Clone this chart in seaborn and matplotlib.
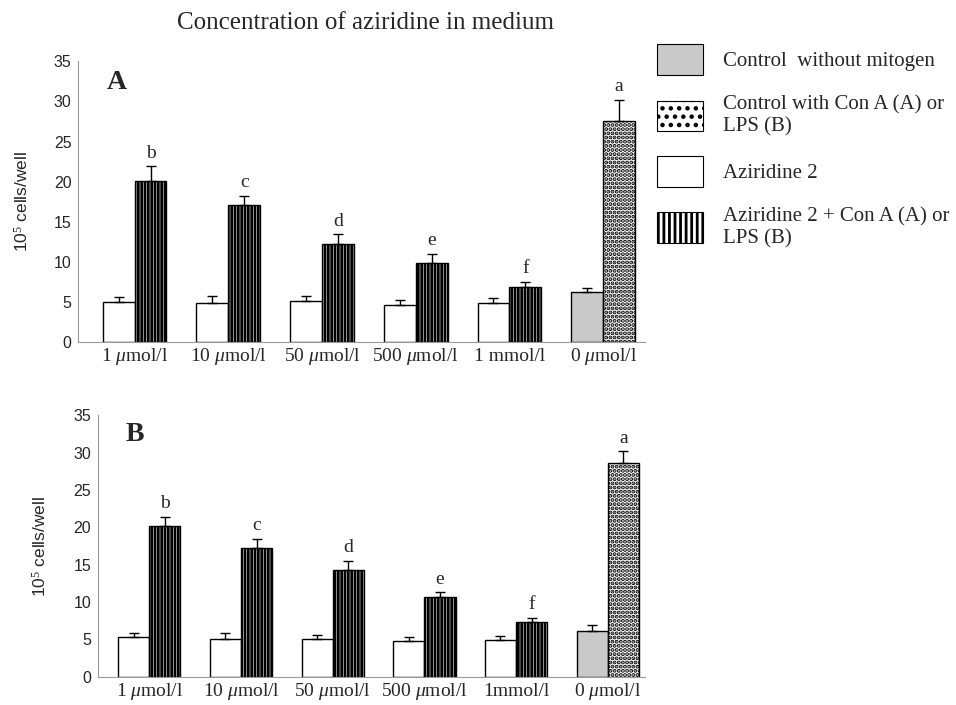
import pandas as pd
import matplotlib.pyplot as plt
import seaborn as sns
from matplotlib.patches import Patch

# concentrations on the x axis
conc_a = ["1 $\\mu$mol/l", "10 $\\mu$mol/l", "50 $\\mu$mol/l", "500 $\\mu$mol/l", "1 mmol/l", "0 $\\mu$mol/l"]
conc_b = ["1 $\\mu$mol/l", "10 $\\mu$mol/l", "50 $\\mu$mol/l", "500 $\\mu$mol/l", "1mmol/l", "0 $\\mu$mol/l"]

# panel A (Con A): first bar = no mitogen, second bar = with mitogen
a_plain = [5.0, 4.8, 5.1, 4.6, 4.8, 6.2]
a_plain_err = [0.6, 0.9, 0.6, 0.6, 0.7, 0.5]
a_mito = [20.1, 17.1, 12.2, 9.8, 6.9, 27.6]
a_mito_err = [1.8, 1.1, 1.2, 1.2, 0.6, 2.6]
a_letters = ["b", "c", "d", "e", "f", "a"]

# panel B (LPS)
b_plain = [5.3, 5.1, 5.0, 4.85, 4.9, 6.1]
b_plain_err = [0.6, 0.8, 0.6, 0.45, 0.6, 0.8]
b_mito = [20.2, 17.2, 14.3, 10.7, 7.3, 28.6]
b_mito_err = [1.2, 1.3, 1.2, 0.6, 0.6, 1.6]
b_letters = ["b", "c", "d", "e", "f", "a"]

legend_labels = ["Control  without mitogen", "Control with Con A (A) or\nLPS (B)",
                 "Aziridine 2", "Aziridine 2 + Con A (A) or\nLPS (B)"]

sns.set_style("white")
plt.rcParams["font.family"] = ["Liberation Serif", "DejaVu Serif"]
plt.rcParams["mathtext.fontset"] = "custom"
plt.rcParams["mathtext.rm"] = "Liberation Serif"
plt.rcParams["mathtext.it"] = "Liberation Serif:italic"
plt.rcParams["hatch.linewidth"] = 2.0
plt.rcParams["hatch.color"] = "black"

VLINES = "|||||"
DOTS = "...."
GREY = "#c9c9c9"

fig = plt.figure(figsize=(9.56, 7.05), dpi=100)
ax_a = fig.add_axes([0.082, 0.515, 0.593, 0.398])
ax_b = fig.add_axes([0.1025, 0.04, 0.5725, 0.371])


def panel(ax, conc, plain, plain_err, mito, mito_err, letters, tag, xlim):
    df = pd.DataFrame({
        "conc": conc + conc,
        "series": ["plain"] * len(conc) + ["mito"] * len(conc),
        "value": plain + mito,
    })
    sns.barplot(data=df, x="conc", y="value", hue="series", order=conc,
                hue_order=["plain", "mito"], palette={"plain": "white", "mito": "white"},
                saturation=1, width=0.68, edgecolor="black", linewidth=1.0,
                legend=False, errorbar=None, ax=ax)
    errs = [plain_err, mito_err]
    vals = [plain, mito]
    bar_groups = list(ax.containers)
    for k, cont in enumerate(bar_groups):
        xs = []
        for i, bar in enumerate(cont):
            last = i == len(cont) - 1
            if k == 0 and last:
                bar.set_facecolor(GREY)
            if k == 1:
                bar.set_hatch(DOTS if last else VLINES)
            xs.append(bar.get_x() + bar.get_width() / 2)
        ax.errorbar(xs, vals[k], yerr=[[0] * len(xs), errs[k]], fmt="none",
                    ecolor="black", elinewidth=1.0, capsize=3.5, capthick=1.0, zorder=1)
        if k == 1:
            for x, v, e, t in zip(xs, vals[k], errs[k], letters):
                ax.text(x, v + e + 0.6, t, ha="center", va="bottom", fontsize=14)
    ax.set_xlim(*xlim)
    ax.set_ylim(0, 35)
    ax.set_yticks(range(0, 36, 5))
    ax.set_xlabel("")
    ax.set_ylabel("10$^5$ cells/well", fontsize=12.5, family=["Liberation Sans"])
    ax.yaxis.set_label_coords(-0.085 if tag == "A" else -0.09, 0.5)
    for lab in ax.get_yticklabels():
        lab.set_family(["Liberation Sans"])
        lab.set_fontsize(11.5)
    ax.tick_params(axis="x", labelsize=14, length=0, pad=14)
    for lab in ax.get_xticklabels():
        lab.set_verticalalignment("baseline")
    ax.tick_params(axis="y", length=3, color="#888888", width=0.8, pad=2)
    sns.despine(ax=ax)
    for s in ("left", "bottom"):
        ax.spines[s].set_color("#999999")
        ax.spines[s].set_linewidth(0.8)
    ax.text(0.05, 0.9, tag, transform=ax.transAxes, fontsize=20, fontweight="bold")


panel(ax_a, conc_a, a_plain, a_plain_err, a_mito, a_mito_err, a_letters, "A", (-0.6, 5.45))
panel(ax_b, conc_b, b_plain, b_plain_err, b_mito, b_mito_err, b_letters, "B", (-0.56, 5.41))

fig.text(0.382, 0.967, "Concentration of aziridine in medium", ha="center", va="center", fontsize=18)

handles = [
    Patch(facecolor=GREY, edgecolor="black", linewidth=0.8),
    Patch(facecolor="white", edgecolor="black", hatch="..", linewidth=0.8),
    Patch(facecolor="white", edgecolor="black", linewidth=0.8),
    Patch(facecolor="white", edgecolor="black", hatch="|||", linewidth=0.8),
]
fig.legend(handles, legend_labels, loc="upper left", bbox_to_anchor=(0.687, 0.937),
           frameon=False, fontsize=15, handlelength=2.2, handleheight=1.9,
           labelspacing=0.95, handletextpad=0.96, borderpad=0, borderaxespad=0)

fig.savefig("out.png", dpi=100)
